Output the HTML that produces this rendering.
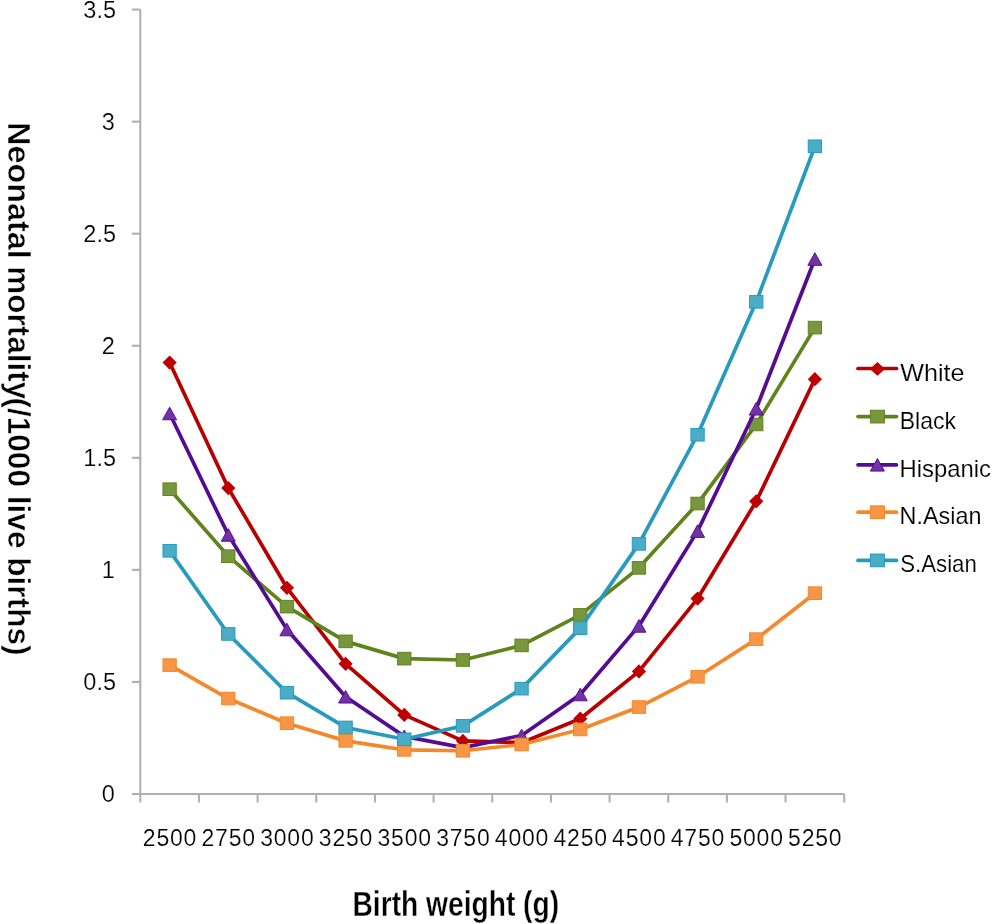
<!DOCTYPE html>
<html><head><meta charset="utf-8"><title>Neonatal mortality by birth weight</title>
<style>
html,body{margin:0;padding:0;background:#fff;}
body{width:992px;height:924px;overflow:hidden;font-family:"Liberation Sans",sans-serif;}
svg{display:block;filter:blur(0.45px);}
</style></head>
<body>
<svg width="992" height="924" viewBox="0 0 992 924">
<rect width="992" height="924" fill="#fff"/>
<g stroke="#b0b0b0" stroke-width="2.1" fill="none">
<line x1="140.3" y1="9.6" x2="140.3" y2="802.5"/>
<line x1="131.8" y1="794.0" x2="844.22" y2="794.0"/>
<line x1="131.8" y1="681.94" x2="140.3" y2="681.94"/>
<line x1="131.8" y1="569.88" x2="140.3" y2="569.88"/>
<line x1="131.8" y1="457.82" x2="140.3" y2="457.82"/>
<line x1="131.8" y1="345.76" x2="140.3" y2="345.76"/>
<line x1="131.8" y1="233.70" x2="140.3" y2="233.70"/>
<line x1="131.8" y1="121.64" x2="140.3" y2="121.64"/>
<line x1="131.8" y1="9.58" x2="140.3" y2="9.58"/>
<line x1="198.96" y1="794.0" x2="198.96" y2="802.5"/>
<line x1="257.62" y1="794.0" x2="257.62" y2="802.5"/>
<line x1="316.28" y1="794.0" x2="316.28" y2="802.5"/>
<line x1="374.94" y1="794.0" x2="374.94" y2="802.5"/>
<line x1="433.60" y1="794.0" x2="433.60" y2="802.5"/>
<line x1="492.26" y1="794.0" x2="492.26" y2="802.5"/>
<line x1="550.92" y1="794.0" x2="550.92" y2="802.5"/>
<line x1="609.58" y1="794.0" x2="609.58" y2="802.5"/>
<line x1="668.24" y1="794.0" x2="668.24" y2="802.5"/>
<line x1="726.90" y1="794.0" x2="726.90" y2="802.5"/>
<line x1="785.56" y1="794.0" x2="785.56" y2="802.5"/>
<line x1="844.22" y1="794.0" x2="844.22" y2="802.5"/>
</g>
<g font-family="Liberation Sans, sans-serif" font-size="23.5" fill="#000" text-anchor="end" stroke="#fff" stroke-width="0.2">
<text x="114.9" y="802.20">0</text>
<text x="116" y="690.14">0.5</text>
<text x="114.9" y="578.08">1</text>
<text x="116" y="466.02">1.5</text>
<text x="114.9" y="353.96">2</text>
<text x="116" y="241.90">2.5</text>
<text x="114.9" y="129.84">3</text>
<text x="116" y="17.78">3.5</text>
</g>
<g font-family="Liberation Sans, sans-serif" font-size="23" fill="#000" text-anchor="middle" letter-spacing="0.8" stroke="#fff" stroke-width="0.2">
<text x="170.03" y="846">2500</text>
<text x="228.69" y="846">2750</text>
<text x="287.35" y="846">3000</text>
<text x="346.01" y="846">3250</text>
<text x="404.67" y="846">3500</text>
<text x="463.33" y="846">3750</text>
<text x="521.99" y="846">4000</text>
<text x="580.65" y="846">4250</text>
<text x="639.31" y="846">4500</text>
<text x="697.97" y="846">4750</text>
<text x="756.63" y="846">5000</text>
<text x="815.29" y="846">5250</text>
</g>
<polyline points="169.63,362.57 228.29,488.08 286.95,587.81 345.61,663.79 404.27,714.89 462.93,740.88 521.59,742.68 580.25,718.70 638.91,671.41 697.57,598.57 756.23,501.30 814.89,379.15" fill="none" stroke="#b80000" stroke-width="3.7" stroke-linejoin="round" stroke-linecap="round"/>
<path d="M169.63 355.47L176.73 362.57L169.63 369.67L162.53 362.57Z" fill="#c00000"/>
<path d="M228.29 480.98L235.39 488.08L228.29 495.18L221.19 488.08Z" fill="#c00000"/>
<path d="M286.95 580.71L294.05 587.81L286.95 594.91L279.85 587.81Z" fill="#c00000"/>
<path d="M345.61 656.69L352.71 663.79L345.61 670.89L338.51 663.79Z" fill="#c00000"/>
<path d="M404.27 707.79L411.37 714.89L404.27 721.99L397.17 714.89Z" fill="#c00000"/>
<path d="M462.93 733.78L470.03 740.88L462.93 747.98L455.83 740.88Z" fill="#c00000"/>
<path d="M521.59 735.58L528.69 742.68L521.59 749.78L514.49 742.68Z" fill="#c00000"/>
<path d="M580.25 711.60L587.35 718.70L580.25 725.80L573.15 718.70Z" fill="#c00000"/>
<path d="M638.91 664.31L646.01 671.41L638.91 678.51L631.81 671.41Z" fill="#c00000"/>
<path d="M697.57 591.47L704.67 598.57L697.57 605.67L690.47 598.57Z" fill="#c00000"/>
<path d="M756.23 494.20L763.33 501.30L756.23 508.40L749.13 501.30Z" fill="#c00000"/>
<path d="M814.89 372.05L821.99 379.15L814.89 386.25L807.79 379.15Z" fill="#c00000"/>
<polyline points="169.63,489.20 228.29,556.21 286.95,606.64 345.61,641.37 404.27,658.63 462.93,659.98 521.59,645.41 580.25,614.93 638.91,567.86 697.57,503.54 756.23,424.43 814.89,327.61" fill="none" stroke="#5f841c" stroke-width="3.7" stroke-linejoin="round" stroke-linecap="round"/>
<rect x="162.98" y="482.90" width="13.3" height="12.6" fill="#77963e" stroke="#5f841c" stroke-width="1"/>
<rect x="221.64" y="549.91" width="13.3" height="12.6" fill="#77963e" stroke="#5f841c" stroke-width="1"/>
<rect x="280.30" y="600.34" width="13.3" height="12.6" fill="#77963e" stroke="#5f841c" stroke-width="1"/>
<rect x="338.96" y="635.07" width="13.3" height="12.6" fill="#77963e" stroke="#5f841c" stroke-width="1"/>
<rect x="397.62" y="652.33" width="13.3" height="12.6" fill="#77963e" stroke="#5f841c" stroke-width="1"/>
<rect x="456.28" y="653.68" width="13.3" height="12.6" fill="#77963e" stroke="#5f841c" stroke-width="1"/>
<rect x="514.94" y="639.11" width="13.3" height="12.6" fill="#77963e" stroke="#5f841c" stroke-width="1"/>
<rect x="573.60" y="608.63" width="13.3" height="12.6" fill="#77963e" stroke="#5f841c" stroke-width="1"/>
<rect x="632.26" y="561.56" width="13.3" height="12.6" fill="#77963e" stroke="#5f841c" stroke-width="1"/>
<rect x="690.92" y="497.24" width="13.3" height="12.6" fill="#77963e" stroke="#5f841c" stroke-width="1"/>
<rect x="749.58" y="418.13" width="13.3" height="12.6" fill="#77963e" stroke="#5f841c" stroke-width="1"/>
<rect x="808.24" y="321.31" width="13.3" height="12.6" fill="#77963e" stroke="#5f841c" stroke-width="1"/>
<polyline points="169.63,413.44 228.29,534.92 286.95,629.50 345.61,696.73 404.27,736.40 462.93,747.61 521.59,735.50 580.25,694.49 638.91,625.91 697.57,531.11 756.23,408.74 814.89,259.03" fill="none" stroke="#560c92" stroke-width="3.7" stroke-linejoin="round" stroke-linecap="round"/>
<path d="M169.63 407.14L176.63 419.74L162.63 419.74Z" fill="#7132a4" stroke="#5a0e98" stroke-width="1" stroke-linejoin="round"/>
<path d="M228.29 528.62L235.29 541.22L221.29 541.22Z" fill="#7132a4" stroke="#5a0e98" stroke-width="1" stroke-linejoin="round"/>
<path d="M286.95 623.20L293.95 635.80L279.95 635.80Z" fill="#7132a4" stroke="#5a0e98" stroke-width="1" stroke-linejoin="round"/>
<path d="M345.61 690.43L352.61 703.03L338.61 703.03Z" fill="#7132a4" stroke="#5a0e98" stroke-width="1" stroke-linejoin="round"/>
<path d="M404.27 730.10L411.27 742.70L397.27 742.70Z" fill="#7132a4" stroke="#5a0e98" stroke-width="1" stroke-linejoin="round"/>
<path d="M462.93 741.31L469.93 753.91L455.93 753.91Z" fill="#7132a4" stroke="#5a0e98" stroke-width="1" stroke-linejoin="round"/>
<path d="M521.59 729.20L528.59 741.80L514.59 741.80Z" fill="#7132a4" stroke="#5a0e98" stroke-width="1" stroke-linejoin="round"/>
<path d="M580.25 688.19L587.25 700.79L573.25 700.79Z" fill="#7132a4" stroke="#5a0e98" stroke-width="1" stroke-linejoin="round"/>
<path d="M638.91 619.61L645.91 632.21L631.91 632.21Z" fill="#7132a4" stroke="#5a0e98" stroke-width="1" stroke-linejoin="round"/>
<path d="M697.57 524.81L704.57 537.41L690.57 537.41Z" fill="#7132a4" stroke="#5a0e98" stroke-width="1" stroke-linejoin="round"/>
<path d="M756.23 402.44L763.23 415.04L749.23 415.04Z" fill="#7132a4" stroke="#5a0e98" stroke-width="1" stroke-linejoin="round"/>
<path d="M814.89 252.73L821.89 265.33L807.89 265.33Z" fill="#7132a4" stroke="#5a0e98" stroke-width="1" stroke-linejoin="round"/>
<polyline points="169.63,665.13 228.29,698.52 286.95,723.18 345.61,740.88 404.27,749.85 462.93,750.74 521.59,744.47 580.25,729.45 638.91,707.04 697.57,676.79 756.23,639.13 814.89,593.19" fill="none" stroke="#f5882a" stroke-width="3.7" stroke-linejoin="round" stroke-linecap="round"/>
<rect x="162.98" y="658.83" width="13.3" height="12.6" fill="#f79646" stroke="#f5882a" stroke-width="1"/>
<rect x="221.64" y="692.22" width="13.3" height="12.6" fill="#f79646" stroke="#f5882a" stroke-width="1"/>
<rect x="280.30" y="716.88" width="13.3" height="12.6" fill="#f79646" stroke="#f5882a" stroke-width="1"/>
<rect x="338.96" y="734.58" width="13.3" height="12.6" fill="#f79646" stroke="#f5882a" stroke-width="1"/>
<rect x="397.62" y="743.55" width="13.3" height="12.6" fill="#f79646" stroke="#f5882a" stroke-width="1"/>
<rect x="456.28" y="744.44" width="13.3" height="12.6" fill="#f79646" stroke="#f5882a" stroke-width="1"/>
<rect x="514.94" y="738.17" width="13.3" height="12.6" fill="#f79646" stroke="#f5882a" stroke-width="1"/>
<rect x="573.60" y="723.15" width="13.3" height="12.6" fill="#f79646" stroke="#f5882a" stroke-width="1"/>
<rect x="632.26" y="700.74" width="13.3" height="12.6" fill="#f79646" stroke="#f5882a" stroke-width="1"/>
<rect x="690.92" y="670.49" width="13.3" height="12.6" fill="#f79646" stroke="#f5882a" stroke-width="1"/>
<rect x="749.58" y="632.83" width="13.3" height="12.6" fill="#f79646" stroke="#f5882a" stroke-width="1"/>
<rect x="808.24" y="586.89" width="13.3" height="12.6" fill="#f79646" stroke="#f5882a" stroke-width="1"/>
<polyline points="169.63,550.83 228.29,633.98 286.95,692.70 345.61,727.44 404.27,739.31 462.93,725.87 521.59,688.66 580.25,628.15 638.91,543.88 697.57,434.74 756.23,301.83 814.89,146.29" fill="none" stroke="#269bbe" stroke-width="3.7" stroke-linejoin="round" stroke-linecap="round"/>
<rect x="162.98" y="544.53" width="13.3" height="12.6" fill="#4bacc6" stroke="#269bbe" stroke-width="1"/>
<rect x="221.64" y="627.68" width="13.3" height="12.6" fill="#4bacc6" stroke="#269bbe" stroke-width="1"/>
<rect x="280.30" y="686.40" width="13.3" height="12.6" fill="#4bacc6" stroke="#269bbe" stroke-width="1"/>
<rect x="338.96" y="721.14" width="13.3" height="12.6" fill="#4bacc6" stroke="#269bbe" stroke-width="1"/>
<rect x="397.62" y="733.01" width="13.3" height="12.6" fill="#4bacc6" stroke="#269bbe" stroke-width="1"/>
<rect x="456.28" y="719.57" width="13.3" height="12.6" fill="#4bacc6" stroke="#269bbe" stroke-width="1"/>
<rect x="514.94" y="682.36" width="13.3" height="12.6" fill="#4bacc6" stroke="#269bbe" stroke-width="1"/>
<rect x="573.60" y="621.85" width="13.3" height="12.6" fill="#4bacc6" stroke="#269bbe" stroke-width="1"/>
<rect x="632.26" y="537.58" width="13.3" height="12.6" fill="#4bacc6" stroke="#269bbe" stroke-width="1"/>
<rect x="690.92" y="428.44" width="13.3" height="12.6" fill="#4bacc6" stroke="#269bbe" stroke-width="1"/>
<rect x="749.58" y="295.53" width="13.3" height="12.6" fill="#4bacc6" stroke="#269bbe" stroke-width="1"/>
<rect x="808.24" y="139.99" width="13.3" height="12.6" fill="#4bacc6" stroke="#269bbe" stroke-width="1"/>
<line x1="858" y1="368.5" x2="896.5" y2="368.5" stroke="#b80000" stroke-width="3.7" stroke-linecap="round"/>
<path d="M877.40 362.10L885.00 368.90L877.40 375.70L869.80 368.90Z" fill="#c00000"/>
<text x="900.3" y="381.4" font-family="Liberation Sans, sans-serif" font-size="24" stroke="#fff" stroke-width="0.15" textLength="64.3" lengthAdjust="spacingAndGlyphs">White</text>
<line x1="858" y1="416.6" x2="896.5" y2="416.6" stroke="#5f841c" stroke-width="3.7" stroke-linecap="round"/>
<rect x="870.40" y="410.25" width="14.0" height="12.7" fill="#77963e" stroke="#5f841c" stroke-width="1"/>
<text x="899.7" y="428.6" font-family="Liberation Sans, sans-serif" font-size="24" stroke="#fff" stroke-width="0.15" textLength="56.35" lengthAdjust="spacingAndGlyphs">Black</text>
<line x1="858" y1="464.8" x2="896.5" y2="464.8" stroke="#560c92" stroke-width="3.7" stroke-linecap="round"/>
<path d="M877.40 458.50L884.40 471.10L870.40 471.10Z" fill="#7132a4" stroke="#5a0e98" stroke-width="1" stroke-linejoin="round"/>
<text x="899.5" y="476.8" font-family="Liberation Sans, sans-serif" font-size="24" stroke="#fff" stroke-width="0.15" textLength="91.5" lengthAdjust="spacingAndGlyphs">Hispanic</text>
<line x1="858" y1="512.2" x2="896.5" y2="512.2" stroke="#f5882a" stroke-width="3.7" stroke-linecap="round"/>
<rect x="870.40" y="505.85" width="14.0" height="12.7" fill="#f79646" stroke="#f5882a" stroke-width="1"/>
<text x="899.5" y="524.0" font-family="Liberation Sans, sans-serif" font-size="24" stroke="#fff" stroke-width="0.15" textLength="81.9" lengthAdjust="spacingAndGlyphs">N.Asian</text>
<line x1="858" y1="560.4" x2="896.5" y2="560.4" stroke="#269bbe" stroke-width="3.7" stroke-linecap="round"/>
<rect x="870.40" y="554.05" width="14.0" height="12.7" fill="#4bacc6" stroke="#269bbe" stroke-width="1"/>
<text x="900.3" y="572.0" font-family="Liberation Sans, sans-serif" font-size="24" stroke="#fff" stroke-width="0.15" textLength="76.5" lengthAdjust="spacingAndGlyphs">S.Asian</text>
<text transform="translate(352.5,916.1) scale(1,1.243)" x="0" y="0" font-family="Liberation Sans, sans-serif" font-weight="bold" font-size="28" stroke="#fff" stroke-width="0.3" textLength="206.6" lengthAdjust="spacingAndGlyphs">Birth weight (g)</text>
<text transform="translate(7.8,121.99) rotate(90)" x="0" y="0" font-family="Liberation Sans, sans-serif" font-weight="bold" font-size="31.5" stroke="#fff" stroke-width="0.5" textLength="136.87" lengthAdjust="spacingAndGlyphs">Neonatal</text>
<text transform="translate(7.8,266.35) rotate(90)" x="0" y="0" font-family="Liberation Sans, sans-serif" font-weight="bold" font-size="31.5" stroke="#fff" stroke-width="0.5" textLength="132.93" lengthAdjust="spacingAndGlyphs">mortality</text>
<text transform="translate(7.8,397.42) rotate(90)" x="0" y="0" font-family="Liberation Sans, sans-serif" font-weight="bold" font-size="31.5" stroke="#fff" stroke-width="0.5" textLength="258.16" lengthAdjust="spacingAndGlyphs">(/1000 live births)</text>
</svg>
</body></html>
